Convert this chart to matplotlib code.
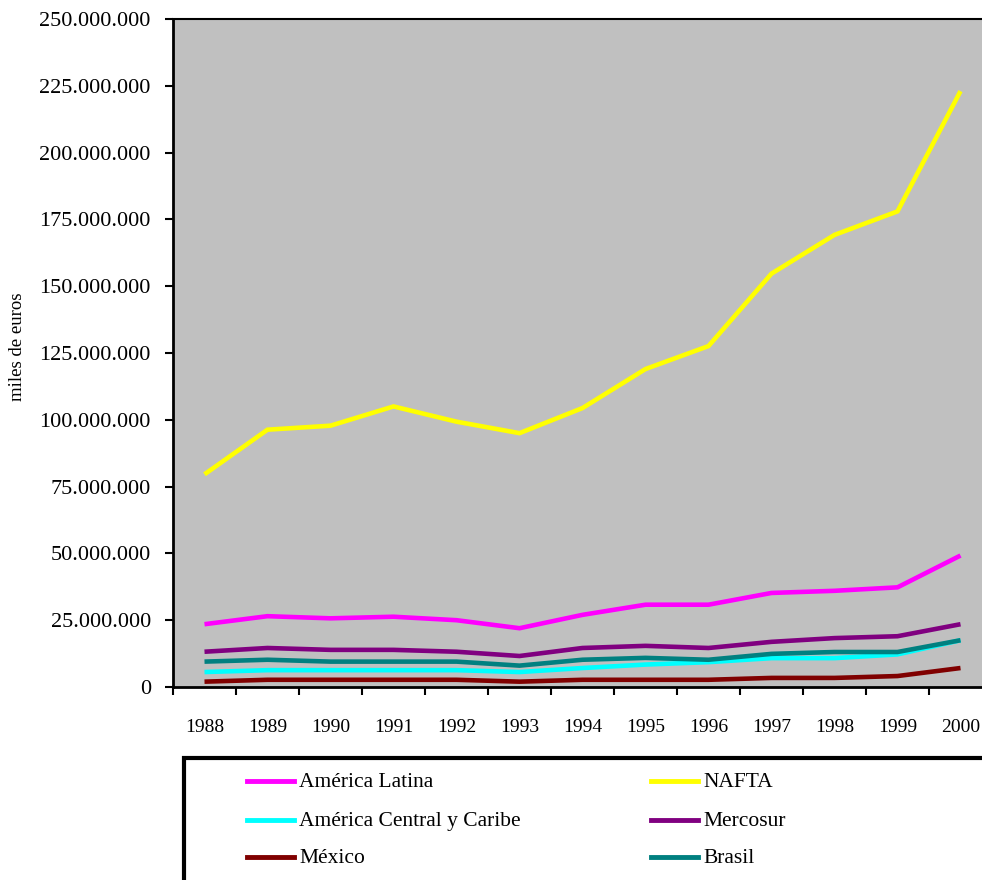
import matplotlib
matplotlib.use("Agg")
import matplotlib.pyplot as plt
from matplotlib.lines import Line2D
from matplotlib.patches import Rectangle
from matplotlib.ticker import FuncFormatter, FixedLocator

years = ["1988", "1989", "1990", "1991", "1992", "1993", "1994",
         "1995", "1996", "1997", "1998", "1999", "2000"]

# Values in millions of euros
america_latina = [23.5, 26.5, 25.7, 26.3, 25.0, 22.0, 27.0, 30.8, 30.8, 35.2, 36.0, 37.3, 49.2]
nafta = [79.6, 96.3, 97.8, 105.0, 99.3, 95.0, 104.4, 119.0, 127.6, 154.7, 169.2, 178.0, 223.0]
america_central = [5.6, 6.3, 6.3, 6.3, 6.3, 5.6, 7.1, 8.4, 9.3, 10.8, 10.8, 12.2, 17.5]
mercosur = [13.2, 14.6, 13.9, 13.9, 13.2, 11.6, 14.6, 15.4, 14.6, 16.9, 18.3, 19.0, 23.5]
mexico = [2.0, 2.7, 2.7, 2.7, 2.7, 2.0, 2.7, 2.7, 2.7, 3.4, 3.4, 4.1, 7.1]
brasil = [9.5, 10.2, 9.5, 9.5, 9.5, 8.0, 10.2, 10.9, 10.2, 12.4, 13.1, 13.1, 17.5]

series_names = ["América Latina", "NAFTA", "América Central y Caribe",
                "Mercosur", "México", "Brasil"]
series_values = [america_latina, nafta, america_central, mercosur, mexico, brasil]
series_colors = ["#FF00FF", "#FFFF00", "#00FFFF", "#800080", "#800000", "#008080"]

y_ticks = list(range(0, 250_000_001, 25_000_000))

plt.rcParams["font.family"] = ["Liberation Serif", "DejaVu Serif"]

fig = plt.figure(figsize=(9.82, 8.8), dpi=100)
fig.patch.set_facecolor("white")

W, H = 982, 880
ax = fig.add_axes([173 / W, 1 - 687 / H, 819 / W, 668 / H])
ax.set_facecolor("#C0C0C0")

x = list(range(len(years)))
lines = []
for name, vals, col in zip(series_names, series_values, series_colors):
    ln, = ax.plot(x, [v * 1_000_000 for v in vals], color=col, lw=3.3,
                  solid_joinstyle="miter", solid_capstyle="butt", label=name)
    lines.append(ln)

ax.set_xlim(-0.5, len(years) - 0.5)
ax.set_ylim(0, 250_000_000)

ax.set_xticks(x)
ax.set_xticklabels(years, fontsize=14)
ax.xaxis.set_minor_locator(FixedLocator([i - 0.5 for i in range(len(years) + 1)]))
ax.tick_params(axis="x", which="major", length=0, pad=23)
ax.tick_params(axis="x", which="minor", length=6, width=1.5, direction="out", color="black")

ax.set_yticks(y_ticks)
ax.yaxis.set_major_formatter(FuncFormatter(lambda v, p: f"{int(v):,}".replace(",", ".")))
ax.tick_params(axis="y", length=6, width=1.5, direction="out", labelsize=16, pad=10)

for side in ("left", "bottom", "top"):
    ax.spines[side].set_linewidth(2.0)
    ax.spines[side].set_color("black")
ax.spines["top"].set_linewidth(1.5)
ax.spines["right"].set_visible(False)

fig.text(18 / W, 1 - 347 / H, "miles de euros", rotation=90, ha="center",
         va="center", fontsize=13.5)

# Legend box drawn in figure pixels
box = Rectangle((184 / W, -0.05), 1.0, (1 - 758 / H) + 0.05,
                transform=fig.transFigure, facecolor="white",
                edgecolor="black", lw=3, zorder=5)
fig.patches.append(box)

col_x = [247, 651]
row_y = [781, 820, 857]
for i, (name, col) in enumerate(zip(series_names, series_colors)):
    cx = col_x[i % 2]
    ry = row_y[i // 2]
    fig.lines.append(Line2D([cx / W, (cx + 47) / W], [1 - ry / H, 1 - ry / H],
                            transform=fig.transFigure, color=col, lw=3.5,
                            zorder=6))
    fig.text((cx + 52) / W, 1 - (ry + 1) / H, name, ha="left", va="center",
             fontsize=15.5, zorder=7)

fig.savefig("out.png", dpi=100)
